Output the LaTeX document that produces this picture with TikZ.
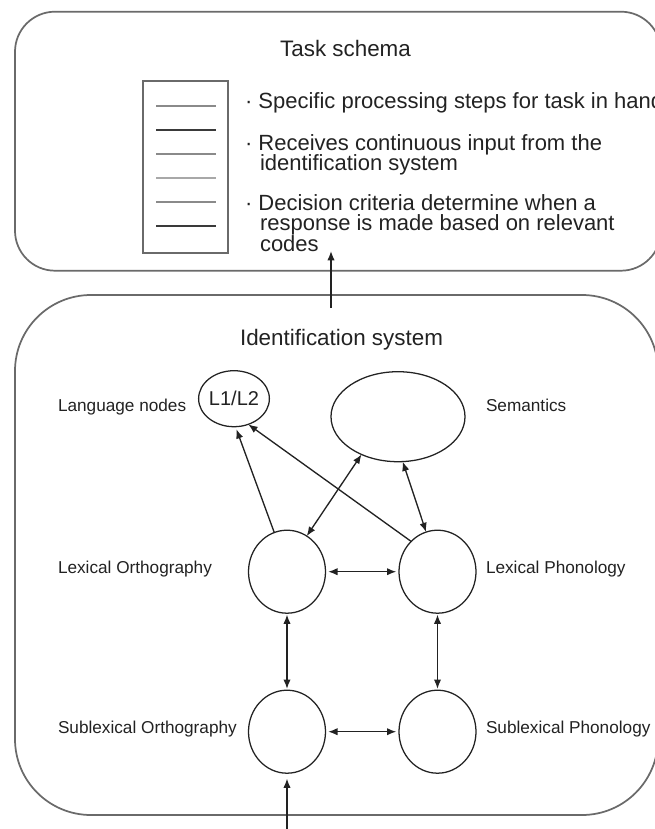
\documentclass[tikz,border=0pt]{standalone}
\usepackage{fontspec}
\setmainfont{Liberation Sans}
\usetikzlibrary{arrows.meta,shapes.geometric}
\definecolor{ink}{HTML}{222222}
\definecolor{frame}{HTML}{6A6A6A}
\definecolor{rulemid}{HTML}{8A8A8A}
\definecolor{ruledark}{HTML}{3A3A3A}
\definecolor{rulelight}{HTML}{A8A8A8}
\begin{document}
\begin{tikzpicture}[x=0.75pt,y=-0.75pt,
  txt/.style={inner sep=0pt,outer sep=0pt,text=ink},
  title/.style={txt,font=\fontsize{16.8}{18}\selectfont,anchor=base},
  bullet/.style={txt,font=\fontsize{16.5}{17}\selectfont,anchor=base west},
  lbl/.style={txt,font=\fontsize{12.9}{14}\selectfont,anchor=base west},
  unit/.style={draw=ink,line width=0.95pt,ellipse,inner sep=0pt,outer sep=0pt,
    minimum width=57.75pt,minimum height=62.25pt},
  frm/.style={draw=frame,line width=1.3pt},
  docrule/.style={line width=1.2pt},
  link/.style={draw=ink,line width=1pt,-{Latex[length=7pt,width=5.5pt]}},
  blink/.style={draw=ink,line width=1pt,{Latex[length=7pt,width=5.5pt]}-{Latex[length=7pt,width=5.5pt]}}
]
\useasboundingbox (0,0) rectangle (655,829);
\clip (0,0) rectangle (655,829);

% ---------- Task schema box ----------
\draw[frm,rounded corners=30pt] (15,11.7) rectangle (661,270.7);
\node[title] (tstitle) at (345.5,56.7) {Task schema};

% document icon
\draw[draw=frame,line width=1.2pt] (143,81) rectangle (228,253);
\draw[docrule,rulemid]   (156,105.7) -- (216,105.7);
\draw[docrule,ruledark]  (156,130)   -- (216,130);
\draw[docrule,rulemid]   (156,154)   -- (216,154);
\draw[docrule,rulelight] (156,178)   -- (216,178);
\draw[docrule,rulemid]   (156,202)   -- (216,202);
\draw[docrule,ruledark]  (156,226)   -- (216,226);

\node[bullet] (b1)  at (245,108)   {· Specific processing steps for task in hand};
\node[bullet] (b2a) at (245,150.7) {· Receives continuous input from the};
\node[bullet] (b2b) at (260,170.5) {identification system};
\node[bullet] (b3a) at (245,210)   {· Decision criteria determine when a};
\node[bullet] (b3b) at (260,230.5) {response is made based on relevant};
\node[bullet] (b3c) at (260,251)   {codes};

% ---------- Identification system box ----------
\draw[frm,rounded corners=57pt] (15,295) rectangle (658,815);
\node[title] (idtitle) at (341.5,345.7) {Identification system};

\coordinate (idsrc) at (331,308);
\coordinate (tstip) at (331,251);
\draw[link] (idsrc) -- (tstip);

% units
\node[unit,minimum width=46.5pt,minimum height=42pt,
  font=\fontsize{15}{16}\selectfont,text=ink] (lang) at (234,398.7) {L1/L2};
\node[unit,minimum width=100.5pt,minimum height=67.5pt] (sem) at (398,416.7) {};
\node[unit] (lo) at (287,571.7) {};
\node[unit] (lp) at (437.5,571.7) {};
\node[unit] (so) at (287,731.7) {};
\node[unit] (sp) at (437.5,731.7) {};

% labels
\node[lbl] (langlbl) at (58,411)  {Language nodes};
\node[lbl] (semlbl)  at (486,411) {Semantics};
\node[lbl] (lolbl)   at (58,573)  {Lexical Orthography};
\node[lbl] (lplbl)   at (486,573) {Lexical Phonology};
\node[lbl] (solbl)   at (58,733)  {Sublexical Orthography};
\node[lbl] (splbl)   at (486,733) {Sublexical Phonology};

% connectors
\draw[link,shorten >=2pt] (lo.108) -- (lang.273);
\draw[link] (lp.131) -- (lang.299);
\draw[blink] (lo.61) -- (sem.226);
\draw[blink] (lp.106) -- (sem.276);
\draw[blink,shorten <=2pt,shorten >=2pt] (lo.east) -- (lp.west);
\draw[blink,shorten <=2pt,shorten >=2pt] (so.east) -- (sp.west);
\draw[blink,shorten <=1pt,shorten >=1pt] (lo.south) -- (so.north);
\draw[blink,shorten <=1pt,shorten >=1pt] (lp.south) -- (sp.north);
\coordinate (input) at (287,835);
\draw[link,shorten >=4pt] (input) -- (so.south);
\end{tikzpicture}
\end{document}
